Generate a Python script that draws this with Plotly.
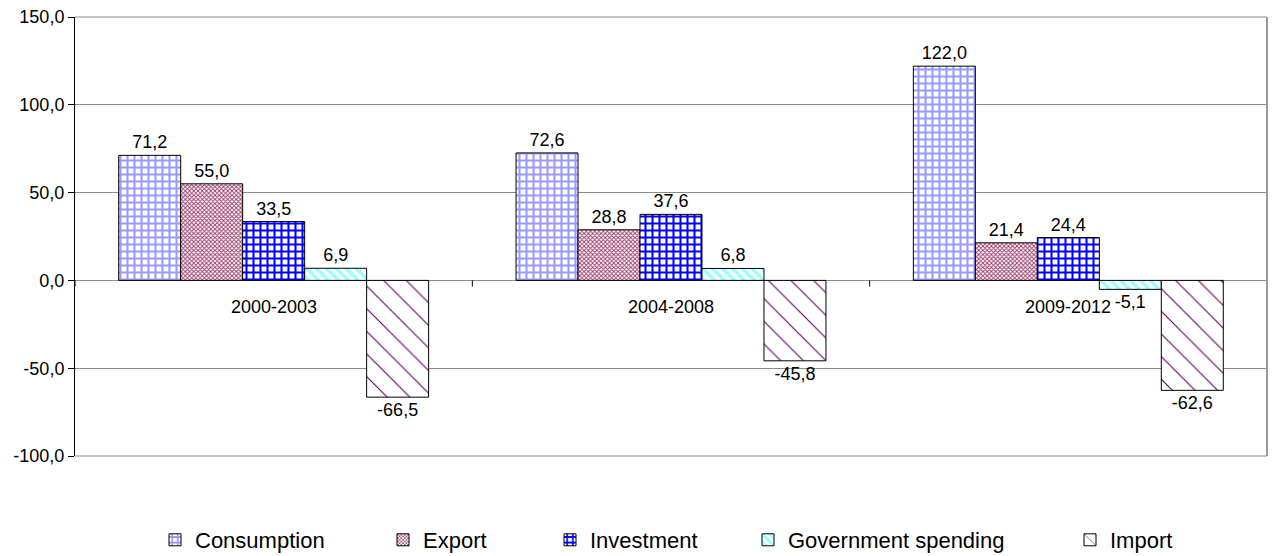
import plotly.graph_objects as go

periods = ["2000-2003", "2004-2008", "2009-2012"]
consumption = [71.2, 72.6, 122.0]
export = [55.0, 28.8, 21.4]
investment = [33.5, 37.6, 24.4]
government = [6.9, 6.8, -5.1]
imports = [-66.5, -45.8, -62.6]

y_ticks = [-100, -50, 0, 50, 100, 150]
y_tick_text = ["-100,0", "-50,0", "0,0", "50,0", "100,0", "150,0"]

FONT = "Liberation Sans, Arial"

series = [
    ("Consumption", consumption, dict(shape="+", fgcolor="#9999FF", size=7, solidity=0.5)),
    ("Export", export, dict(shape="x", fgcolor="#993366", size=3, solidity=0.5)),
    ("Investment", investment, dict(shape="+", fgcolor="#0000FF", size=7, solidity=0.5)),
    ("Government spending", government, dict(shape="\\", fgcolor="#99FFFF", size=7, solidity=0.5)),
    ("Import", imports, dict(shape="\\", fgcolor="#660066", size=16, solidity=0.07)),
]

# horizontal position (px) of each legend entry's swatch
legend_px = [175, 403, 570, 768, 1090]

fig = go.Figure()
for i, (name, vals, pat) in enumerate(series):
    pat = dict(pat, bgcolor="white", fgopacity=1, fillmode="replace")
    fig.add_trace(go.Bar(
        name=name, x=periods, y=vals,
        legend="legend" if i == 0 else f"legend{i + 1}",
        showlegend=True,
        marker=dict(color="white", pattern=pat, line=dict(color="black", width=1)),
        text=vals, texttemplate="%{y:.1f}", textposition="outside",
        textfont=dict(family=FONT, size=18, color="black"),
        constraintext="none", cliponaxis=False,
    ))

# category labels sit just below the zero line
for p in periods:
    fig.add_annotation(x=p, y=0, text=p, showarrow=False, yanchor="top", yshift=-15,
                       font=dict(family=FONT, size=18, color="black"))

# tick marks between categories on the zero line
for xv in [-0.5, 0.5, 1.5, 2.5]:
    fig.add_shape(type="line", xref="x", yref="y", x0=xv, x1=xv, y0=0, y1=-3.5,
                  line=dict(color="black", width=1))

# plot-area frame: top and bottom gridlines, right border
for yv in (0, 1):
    fig.add_shape(type="line", xref="paper", yref="paper", x0=0, x1=1, y0=yv, y1=yv,
                  line=dict(color="#8c8c8c", width=1), layer="below")
fig.add_shape(type="line", xref="paper", yref="paper", x0=1, x1=1, y0=0, y1=1,
              line=dict(color="#999999", width=2))

legends = {}
for i, px in enumerate(legend_px):
    key = "legend" if i == 0 else f"legend{i + 1}"
    legends[key] = dict(orientation="h", xref="container", yref="container",
                        x=(px - 20) / 1273, xanchor="left",
                        y=(556 - 540) / 556, yanchor="middle",
                        font=dict(family=FONT, size=22, color="black"),
                        itemwidth=30, bgcolor="rgba(0,0,0,0)", visible=True)

fig.update_layout(
    width=1273, height=556,
    margin=dict(l=75, r=6, t=17, b=100, autoexpand=False),
    paper_bgcolor="white", plot_bgcolor="white",
    showlegend=True,
    barmode="group", bargap=0.22, bargroupgap=0,
    separators=", ",
    font=dict(family=FONT, size=18, color="black"),
    xaxis=dict(showticklabels=False, showgrid=False, zeroline=False, showline=False,
               ticks="", range=[-0.5, 2.5]),
    yaxis=dict(range=[-100, 150], tickvals=y_ticks, ticktext=y_tick_text,
               showgrid=True, gridcolor="#8c8c8c", gridwidth=1,
               zeroline=True, zerolinecolor="#8c8c8c", zerolinewidth=1,
               showline=True, linecolor="black", linewidth=1,
               ticks="outside", ticklen=6, tickcolor="black",
               tickfont=dict(family=FONT, size=18)),
    **legends,
)

fig.write_html("out.html")
